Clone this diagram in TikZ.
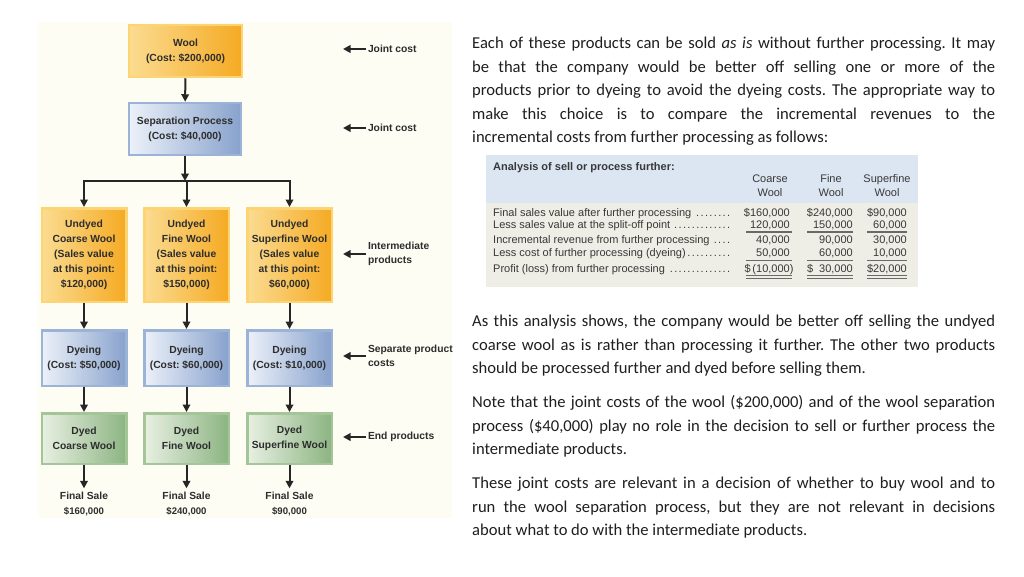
\documentclass[tikz,border=0pt]{standalone}
\usepackage{fontspec}
\setmainfont{Carlito}
\newfontfamily\diafont{Liberation Sans}
\usetikzlibrary{arrows.meta}
\frenchspacing

\definecolor{woolbg}{RGB}{253,253,244}
\definecolor{orgL}{RGB}{251,220,145}
\definecolor{orgR}{RGB}{245,170,35}
\definecolor{orgE}{RGB}{252,212,115}
\definecolor{bluL}{RGB}{236,241,249}
\definecolor{bluR}{RGB}{136,162,205}
\definecolor{bluE}{RGB}{156,179,216}
\definecolor{grnL}{RGB}{232,240,226}
\definecolor{grnR}{RGB}{140,180,130}
\definecolor{grnE}{RGB}{163,197,152}
\definecolor{dtext}{RGB}{45,45,45}
\definecolor{tabhead}{RGB}{220,230,242}
\definecolor{tabbody}{RGB}{238,237,230}
\definecolor{rulegray}{RGB}{105,105,105}

\newcommand\tabdots{\leaders\hbox to 4.4pt{\hss.\hss}\hfill}

\tikzset{
  box/.style={rectangle, line width=2.5pt, align=center, inner sep=0pt,
    font=\diafont\bfseries\fontsize{10.3}{15}\selectfont, text=dtext},
  orgbox/.style={box, draw=orgE, left color=orgL, right color=orgR},
  blubox/.style={box, draw=bluE, left color=bluL, right color=bluR},
  grnbox/.style={box, draw=grnE, left color=grnL, right color=grnR},
  flow/.style={line width=2pt, draw=black!85, -{Triangle[length=7.5pt,width=7.5pt]}},
  sidelabel/.style={anchor=west, align=left, inner sep=0pt, outer sep=2pt, text=dtext,
    font=\diafont\bfseries\fontsize{10.3}{14}\selectfont},
  salelabel/.style={anchor=base, inner sep=3pt, text=dtext,
    font=\diafont\bfseries\fontsize{10.3}{14}\selectfont},
  para/.style={anchor=base west, inner sep=0pt, text=black!88},
  tab/.style={inner sep=0pt, text=black!78, font=\diafont\fontsize{11}{14}\selectfont},
  underl/.style={draw=rulegray, line width=1.2pt},
}

\begin{document}
\begin{tikzpicture}[x=1pt, y=-1pt]
  \useasboundingbox (0,0) rectangle (1024,576);
  \fill[white] (0,0) rectangle (1024,576);
  \fill[woolbg] (38,22) rectangle (452,518);

  % flow chart
  \node[orgbox, minimum width=113pt, minimum height=52pt] (wool) at (185.5,51)
    {Wool\\(Cost: \$200,000)};
  \node[blubox, minimum width=112pt, minimum height=52pt] (sep) at (185,129)
    {Separation Process\\(Cost: \$40,000)};
  \node[orgbox, minimum width=84.5pt, minimum height=93.5pt] (u1) at (84,255)
    {Undyed\\Coarse Wool\\(Sales value\\at this point:\\\$120,000)};
  \node[orgbox, minimum width=84.5pt, minimum height=93.5pt] (u2) at (186.5,255)
    {Undyed\\Fine Wool\\(Sales value\\at this point:\\\$150,000)};
  \node[orgbox, minimum width=84.5pt, minimum height=93.5pt] (u3) at (289.5,255)
    {Undyed\\Superfine Wool\\(Sales value\\at this point:\\\$60,000)};
  \node[blubox, minimum width=84.5pt, minimum height=55.5pt] (d1) at (84,358)
    {Dyeing\\(Cost: \$50,000)};
  \node[blubox, minimum width=84.5pt, minimum height=55.5pt] (d2) at (186.5,358)
    {Dyeing\\(Cost: \$60,000)};
  \node[blubox, minimum width=84.5pt, minimum height=55.5pt] (d3) at (289.5,358)
    {Dyeing\\(Cost: \$10,000)};
  \node[grnbox, minimum width=84.5pt, minimum height=50.5pt] (e1) at (84,438.5)
    {Dyed\\Coarse Wool};
  \node[grnbox, minimum width=84.5pt, minimum height=50.5pt] (e2) at (186.5,438.5)
    {Dyed\\Fine Wool};
  \node[grnbox, minimum width=84.5pt, minimum height=50.5pt] (e3) at (289.5,438.5)
    {Dyed\\Superfine Wool};
  \node[salelabel] (f1) at (84,499) {Final Sale};
  \node[salelabel] (f2) at (186.5,499) {Final Sale};
  \node[salelabel] (f3) at (289.5,499) {Final Sale};
  \node[salelabel, font=\diafont\bfseries\fontsize{9.6}{12}\selectfont] (v1) at (84,514.5) {\$160,000};
  \node[salelabel, font=\diafont\bfseries\fontsize{9.6}{12}\selectfont] (v2) at (186.5,514.5) {\$240,000};
  \node[salelabel, font=\diafont\bfseries\fontsize{9.6}{12}\selectfont] (v3) at (289.5,514.5) {\$90,000};

  \node[sidelabel] (jc1) at (366,49) {Joint cost};
  \node[sidelabel] (jc2) at (366,128) {Joint cost};
  \node[sidelabel] (ip) at (366,254) {Intermediate\\products};
  \node[sidelabel] (sp) at (366,356) {Separate product\\costs};
  \node[sidelabel] (ep) at (366,437) {End products};

  \coordinate (bm) at (185,181);
  \coordinate (b1) at (84,181);
  \coordinate (b2) at (186.5,181);
  \coordinate (b3) at (289.5,181);

  \begin{scope}[flow]
    \draw (wool) -- (sep);
    \draw (sep) -- (bm);
    \draw (b1) -- (u1);
    \draw (b2) -- (u2);
    \draw (b3) -- (u3);
    \draw (u1) -- (d1);
    \draw (u2) -- (d2);
    \draw (u3) -- (d3);
    \draw (d1) -- (e1);
    \draw (d2) -- (e2);
    \draw (d3) -- (e3);
    \draw (e1) -- (f1);
    \draw (e2) -- (f2);
    \draw (e3) -- (f3);
    \draw (jc1.west) -- ++(-23,0) coordinate (jc1e);
    \draw (jc2.west) -- ++(-23,0) coordinate (jc2e);
    \draw (ip.west) -- ++(-23,0) coordinate (ipe);
    \draw (sp.west) -- ++(-23,0) coordinate (spe);
    \draw (ep.west) -- ++(-23,0) coordinate (epe);
  \end{scope}
  \draw[line width=2pt, draw=black!85] ([xshift=-1pt]b1) -- ([xshift=1pt]b3);

  % text column
  \node[para] (p1) at (472,48.5) {\parbox[t]{523pt}{\fontsize{16.6}{23.5}\selectfont
    \hyphenpenalty=10000 \tolerance=10000
    Each of these products can be sold \emph{as is} without further processing. It may\linebreak
    be that the company would be better off selling one or more of the\linebreak
    products prior to dyeing to avoid the dyeing costs. The appropriate way to\linebreak
    make this choice is to compare the incremental revenues to the\linebreak
    incremental costs from further processing as follows:}};
  \node[para] (p2) at (472,326.5) {\parbox[t]{523pt}{\fontsize{16.6}{23.5}\selectfont
    \hyphenpenalty=10000 \tolerance=10000
    As this analysis shows, the company would be better off selling the undyed\linebreak
    coarse wool as is rather than processing it further. The other two products\linebreak
    should be processed further and dyed before selling them.}};
  \node[para] (p3) at (472,407.5) {\parbox[t]{523pt}{\fontsize{16.6}{23.5}\selectfont
    \hyphenpenalty=10000 \tolerance=10000
    Note that the joint costs of the wool (\$200,000) and of the wool separation\linebreak
    process (\$40,000) play no role in the decision to sell or further process the\linebreak
    intermediate products.}};
  \node[para] (p4) at (472,488.5) {\parbox[t]{523pt}{\fontsize{16.6}{23.5}\selectfont
    \hyphenpenalty=10000 \tolerance=10000
    These joint costs are relevant in a decision of whether to buy wool and to\linebreak
    run the wool separation process, but they are not relevant in decisions\linebreak
    about what to do with the intermediate products.}};

  % analysis table
  \fill[tabhead] (486,155) rectangle (918,203);
  \fill[tabbody] (486,203) rectangle (918,287);
  \node[tab, anchor=base west, font=\diafont\bfseries\fontsize{11}{14}\selectfont] (ttl) at (493,170)
    {Analysis of sell or process further:};
  \node[tab, anchor=base, align=center] (hc) at (770,182) {Coarse};
  \node[tab, anchor=base, align=center] (hcw) at (770,196) {Wool};
  \node[tab, anchor=base, align=center] (hf) at (831,182) {Fine};
  \node[tab, anchor=base, align=center] (hfw) at (831,196) {Wool};
  \node[tab, anchor=base, align=center] (hs) at (887,182) {Superfine};
  \node[tab, anchor=base, align=center] (hsw) at (887,196) {Wool};

  \node[tab, anchor=base west] (r1) at (493,216)
    {\hbox to 240pt{Final sales value after further processing\tabdots}};
  \node[tab, anchor=base west] (r2) at (493,228.5)
    {\hbox to 240pt{Less sales value at the split-off point\tabdots}};
  \node[tab, anchor=base west] (r3) at (493,243.5)
    {\hbox to 240pt{Incremental revenue from further processing\tabdots}};
  \node[tab, anchor=base west] (r4) at (493,256)
    {\hbox to 240pt{Less cost of further processing (dyeing)\tabdots}};
  \node[tab, anchor=base west] (r5) at (493,272)
    {\hbox to 240pt{Profit (loss) from further processing\tabdots}};

  \node[tab, anchor=base east] (r1c) at (790,216) {\$160,000};
  \node[tab, anchor=base east] (r1f) at (853,216) {\$240,000};
  \node[tab, anchor=base east] (r1s) at (907,216) {\$90,000};
  \node[tab, anchor=base east] (r2c) at (790,228.5) {120,000};
  \node[tab, anchor=base east] (r2f) at (853,228.5) {150,000};
  \node[tab, anchor=base east] (r2s) at (907,228.5) {60,000};
  \node[tab, anchor=base east] (r3c) at (790,243.5) {40,000};
  \node[tab, anchor=base east] (r3f) at (853,243.5) {90,000};
  \node[tab, anchor=base east] (r3s) at (907,243.5) {30,000};
  \node[tab, anchor=base east] (r4c) at (790,256) {50,000};
  \node[tab, anchor=base east] (r4f) at (853,256) {60,000};
  \node[tab, anchor=base east] (r4s) at (907,256) {10,000};
  \node[tab, anchor=base east] (r5c) at (790,272) {\$\,(10,000\rlap{)}};
  \node[tab, anchor=base east] (r5f) at (853,272) {\$\hspace{6pt}30,000};
  \node[tab, anchor=base east] (r5s) at (907,272) {\$20,000};

  \draw[underl] (746,232) -- (792,232) (807,232) -- (853,232) (867,232) -- (907,232);
  \draw[underl] (746,260.5) -- (792,260.5) (807,260.5) -- (853,260.5) (867,260.5) -- (907,260.5);
  \draw[underl] (746,275.5) -- (792,275.5) (807,275.5) -- (853,275.5) (867,275.5) -- (907,275.5);
  \draw[underl] (746,278.3) -- (792,278.3) (807,278.3) -- (853,278.3) (867,278.3) -- (907,278.3);
\end{tikzpicture}
\end{document}
